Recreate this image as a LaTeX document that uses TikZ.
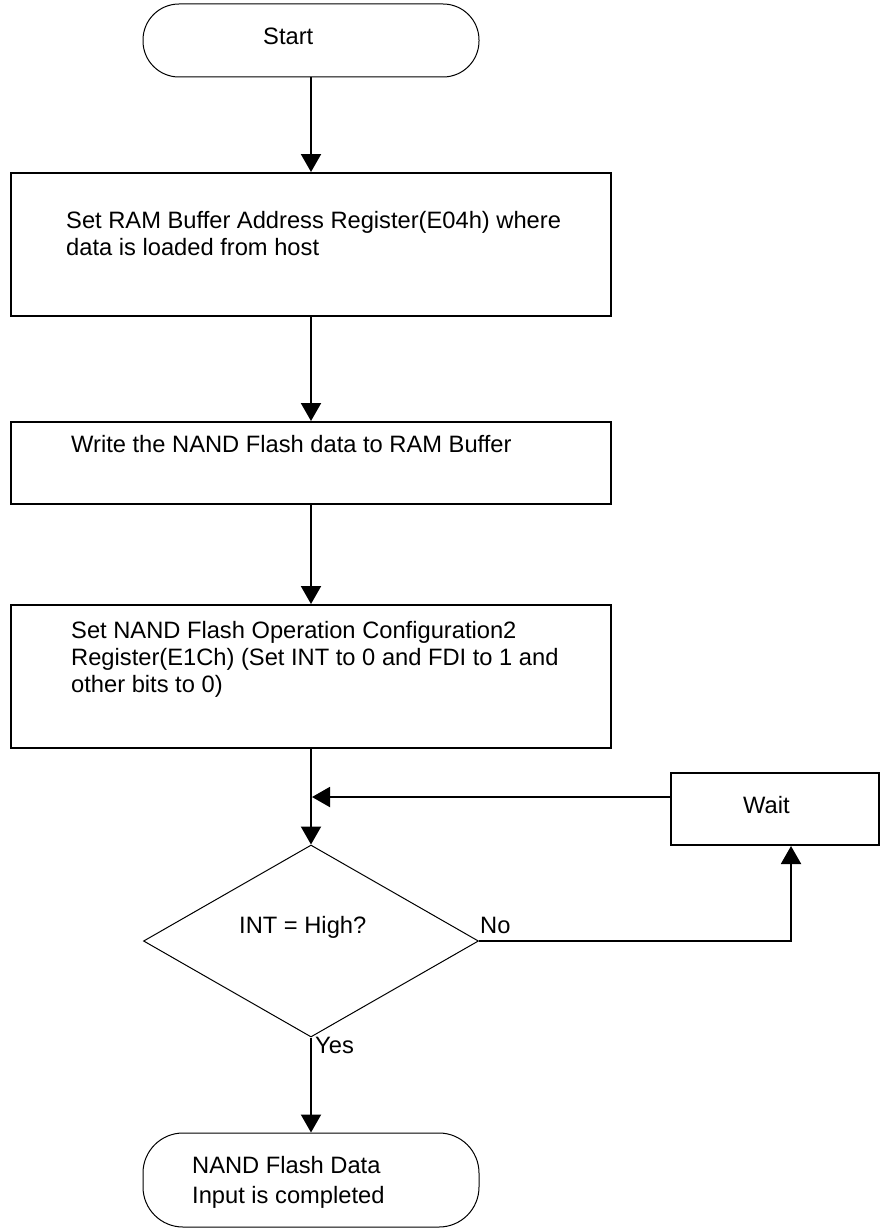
\documentclass[tikz,border=0pt]{standalone}
\usepackage{fontspec}
\setmainfont{Liberation Sans}
\usetikzlibrary{arrows.meta,shapes.geometric}
\begin{document}
\begin{tikzpicture}[x=1pt,y=-1pt,
  txt/.style={inner sep=0pt,anchor=base west,align=left,font={\fontsize{23.7pt}{27pt}\selectfont}},
  term/.style={draw,line width=1pt,rounded corners=36pt,minimum width=336pt,inner sep=0pt},
  procbox/.style={draw,line width=2pt,minimum width=600pt,inner sep=0pt},
  decision/.style={draw,diamond,line width=1pt,minimum width=335pt,minimum height=192pt,inner sep=0pt,aspect=1.745},
  conn/.style={line width=2pt},
  arr/.style={conn,-{Triangle[length=18pt,width=20pt]}}
]
\useasboundingbox (0,0) rectangle (880,1228);

% shapes
\node[term,minimum height=73pt] (start) at (311,40.5) {};
\node[procbox,minimum height=143pt] (b1) at (311,244.5) {};
\node[procbox,minimum height=82pt] (b2) at (311,463) {};
\node[procbox,minimum height=143pt] (b3) at (311,676.5) {};
\node[decision] (dia) at (311,941) {};
\node[draw,line width=2pt,minimum width=208pt,minimum height=72pt,inner sep=0pt] (wait) at (775,809) {};
\node[term,rounded corners=40pt,minimum height=94pt] (end) at (311,1180) {};

% texts (base anchor = baseline of the last line)
\node[txt] (tstart) at (263,45) {Start};
\node[txt] (t1) at (66,255) {Set RAM Buffer Address Register(E04h) where\\data is loaded from host};
\node[txt] (t2) at (71,452) {Write the NAND Flash data to RAM Buffer};
\node[txt] (t3) at (71,692) {Set NAND Flash Operation Configuration2\\Register(E1Ch) (Set INT to 0 and FDI to 1 and\\other bits to 0)};
\node[txt] (tdia) at (239,933) {INT = High?};
\node[txt] (tno) at (480,933) {No};
\node[txt] (twait) at (743,813) {Wait};
\node[txt] (tyes) at (315,1053) {Yes};
\node[txt,font={\fontsize{23.7pt}{30pt}\selectfont}] (tend) at (192,1203) {NAND Flash Data\\Input is completed};

% connectors
\coordinate (join) at (311,797);
\coordinate (upx) at (791,941);
\draw[arr] (start.south) -- (b1.north);
\draw[arr] (b1.south) -- (b2.north);
\draw[arr] (b2.south) -- (b3.north);
\draw[arr] (b3.south) -- (dia.north);
\draw[arr] (dia.east) -- (upx) -- (upx |- wait.south);
\draw[arr] ([yshift=12pt]wait.west) -- ([xshift=1pt]join);
\draw[arr] (dia.south) -- (end.north);
\end{tikzpicture}
\end{document}
